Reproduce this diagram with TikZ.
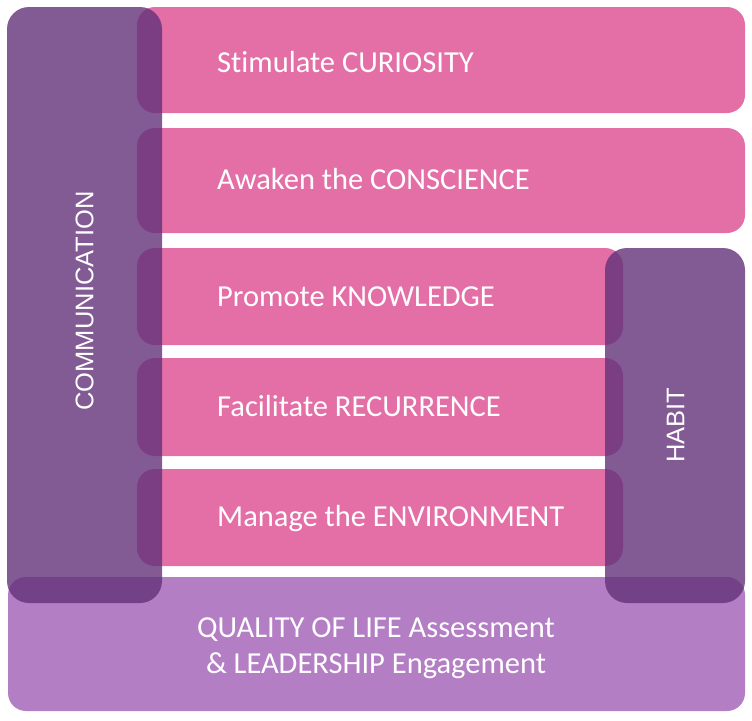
\documentclass[tikz,border=0pt]{standalone}
\usepackage{fontspec}
\setmainfont[Ligatures={NoCommon}]{Carlito}
\newfontfamily\arialf{Liberation Sans}
\definecolor{barpink}{HTML}{E46FA7}
\definecolor{basepurple}{HTML}{B47EC4}
\definecolor{sidepurple}{HTML}{633279}
\tikzset{
  bar/.style={fill=barpink, rounded corners=18pt},
  basebox/.style={fill=basepurple, rounded corners=18pt},
  side/.style={fill=sidepurple, fill opacity=0.8, rounded corners=22pt},
  bartext/.style={anchor=base west, text=white, font=\fontsize{30.5}{36}\selectfont, inner sep=0pt},
  basetext/.style={anchor=base, text=white, font=\fontsize{30.5}{36}\selectfont, inner sep=0pt},
  sidetext/.style={rotate=90, text=white, font=\arialf\fontsize{25.5}{30}\selectfont, inner sep=0pt}
}
\begin{document}
\begin{tikzpicture}[x=1pt,y=-1pt]
\useasboundingbox (0,0) rectangle (752,720);
% pink bars
\fill[bar] (137,7) rectangle (745,113);
\fill[bar] (137,128) rectangle (745,233);
\fill[bar] (137,248) rectangle (623,345);
\fill[bar] (137,358) rectangle (623,456);
\fill[bar] (137,469) rectangle (623,566);
% base box
\fill[basebox] (8,577) rectangle (745,711);
% overlays
\fill[side] (7,7) rectangle (162,603);
\fill[side] (605,248) rectangle (745,603);
% texts
\node[bartext] (t1) at (217,72) {Stimulate CURIOSITY};
\node[bartext] (t2) at (217,189) {Awaken the CONSCIENCE};
\node[bartext] (t3) at (217,306) {Promote KNOWLEDGE};
\node[bartext] (t4) at (217,416) {Facilitate RECURRENCE};
\node[bartext] (t5) at (217,526) {Manage the ENVIRONMENT};
\node[basetext] (b1) at (376,637) {QUALITY OF LIFE Assessment};
\node[basetext] (b2) at (376,673) {\& LEADERSHIP Engagement};
\node[sidetext] (comm) at (84.5,301) {COMMUNICATION};
\node[sidetext] (habit) at (675.5,425) {HABIT};
\end{tikzpicture}
\end{document}
